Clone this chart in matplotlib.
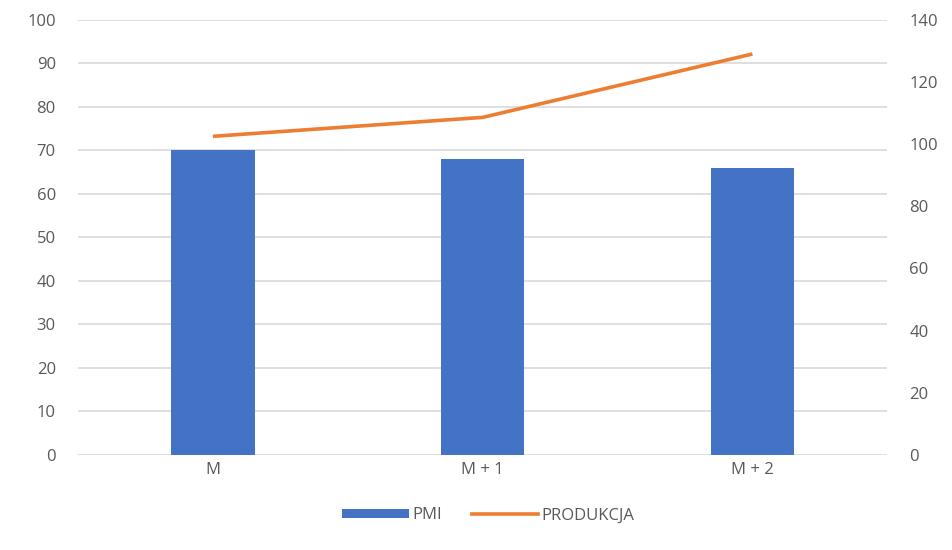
import matplotlib
matplotlib.use("Agg")
import matplotlib.pyplot as plt
from matplotlib.patches import Patch
from matplotlib.lines import Line2D

plt.rcParams['font.family'] = ['Open Sans', 'DejaVu Sans']

categories = ["M", "M + 1", "M + 2"]
pmi = [70, 68, 66]
produkcja = [102.5, 108.6, 129.0]
left_ticks = list(range(0, 101, 10))
right_ticks = list(range(0, 141, 20))

BLUE = "#4472C4"
ORANGE = "#ED7D31"
GRID = "#D9D9D9"
TEXT = "#595959"
FS = 12

fig = plt.figure(figsize=(9.52, 5.5), dpi=100)
ax = fig.add_axes([0.082, 0.173, 0.85, 0.791])
x = list(range(len(categories)))

ax.bar(x, pmi, width=0.31, color=BLUE, zorder=3)
ax.set_xlim(-0.5, len(categories) - 0.5)
ax.set_ylim(0, 100)
ax.set_yticks(left_ticks)
ax.set_xticks(x)
ax.set_xticklabels(categories)
ax.yaxis.grid(True, color=GRID, linewidth=1.2, zorder=0)
ax.set_axisbelow(True)
for s in ax.spines.values():
    s.set_visible(False)
ax.tick_params(axis='both', length=0, labelsize=FS, colors=TEXT)
ax.tick_params(axis='y', pad=16)
ax.tick_params(axis='x', pad=5)

ax2 = ax.twinx()
ax2.plot(x, produkcja, color=ORANGE, linewidth=2.6, solid_capstyle='butt', zorder=4)
ax2.set_ylim(0, 140)
ax2.set_yticks(right_ticks)
for s in ax2.spines.values():
    s.set_visible(False)
ax2.tick_params(axis='y', length=0, labelsize=FS, colors=TEXT, pad=16)

handles = [Patch(facecolor=BLUE, edgecolor='none'),
           Line2D([0], [0], color=ORANGE, linewidth=2.6)]
fig.legend(handles, ["PMI", "PRODUKCJA"], loc='center', bbox_to_anchor=(0.513, 0.063),
           ncol=2, frameon=False, fontsize=FS, labelcolor=TEXT,
           handlelength=4.0, handleheight=0.5, handletextpad=0.2, columnspacing=1.8)

fig.savefig("out.png", dpi=100, facecolor="white")
